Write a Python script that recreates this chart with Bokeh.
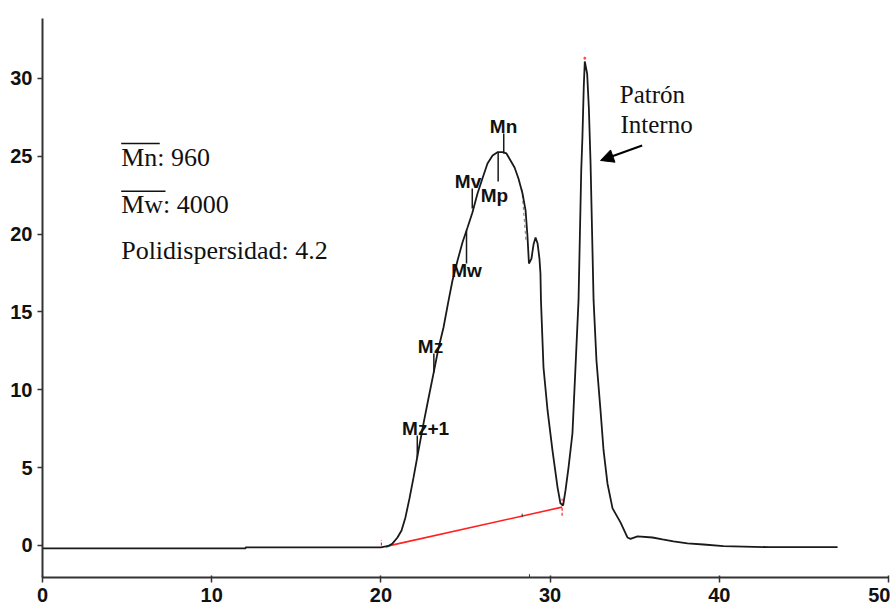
from bokeh.plotting import figure
from bokeh.models import Range1d, Arrow, NormalHead, FixedTicker
from bokeh.embed import file_html
from bokeh.resources import INLINE
from bokeh.core.properties import value

# ---- chromatogram trace (elution time, detector signal) ----
trace_x = [0.0, 12.0, 12.0, 20.0, 20.45, 20.69, 20.98, 21.22, 21.45, 21.69, 21.93,
           22.22, 22.52, 22.81, 23.11, 23.40, 23.70, 24.00, 24.23, 24.53, 24.82,
           25.12, 25.41, 25.71, 26.00, 26.30, 26.60, 26.89, 27.19, 27.42, 27.66,
           27.90, 28.13, 28.37, 28.55, 28.66, 28.75, 28.90, 29.02, 29.14, 29.26,
           29.37, 29.43, 29.46, 29.61, 29.85, 30.14, 30.44, 30.61, 30.77, 30.91,
           31.09, 31.32, 31.50, 31.68, 31.84, 31.91, 31.99, 32.05, 32.19, 32.29,
           32.39, 32.57, 32.74, 32.98, 33.16, 33.39, 33.69, 34.16, 34.57, 34.75,
           35.17, 36.05, 36.64, 37.29, 38.12, 39.07, 40.25, 42.91, 46.99]
trace_y = [-0.19, -0.19, -0.13, -0.13, -0.03, 0.13, 0.51, 0.96, 1.80, 3.02, 4.37,
           6.10, 7.84, 9.44, 11.05, 12.65, 14.00, 15.74, 17.02, 18.30, 19.46,
           20.42, 21.39, 22.61, 23.57, 24.53, 25.05, 25.26, 25.27, 25.18, 24.73,
           24.28, 23.57, 22.61, 21.52, 19.91, 18.11, 18.43, 19.33, 19.78, 19.40,
           18.43, 17.47, 15.74, 11.43, 8.67, 6.10, 3.73, 2.70, 2.57, 3.53,
           5.01, 7.19, 11.43, 15.74, 24.08, 26.20, 29.48, 31.09, 30.31, 28.12,
           24.60, 15.74, 11.88, 8.67, 6.10, 3.98, 2.38, 1.48, 0.51, 0.42,
           0.58, 0.51, 0.39, 0.26, 0.13, 0.06, -0.04, -0.11, -0.11]

# ---- integration baseline ----
baseline_x = [20.45, 30.71]
baseline_y = [-0.03, 2.46]

# ---- molecular-weight average markers ----
marker_names = ["Mn", "Mp", "Mv", "Mw", "Mz", "Mz+1"]
marker_x = [27.26, 26.93, 25.40, 25.06, 23.13, 22.15]
marker_y0 = [26.46, 25.24, 22.93, 20.23, 12.33, 7.06]
marker_y1 = [25.18, 23.38, 21.64, 18.11, 11.11, 5.65]
label_x = [27.25, 26.71, 25.15, 25.06, 22.93, 22.64]
label_y = [26.91, 22.48, 23.35, 17.63, 12.81, 7.51]

# ---- summary text ----
summary_text = ["Mn: 960", "Mw: 4000", "Polidispersidad: 4.2"]
summary_x = [4.65, 4.65, 4.65]
summary_y = [24.92, 21.90, 18.95]
overline_x0 = [4.65, 4.65]
overline_x1 = [6.93, 7.27]
overline_y = [25.82, 22.76]

std_text = ["Patrón", "Interno"]
std_x = [34.12, 34.16]
std_y = [28.97, 27.04]
arrow_start = (35.44, 25.69)
arrow_end = (32.98, 24.73)

x_ticks = [0, 10, 20, 30, 40, 50]
y_ticks = [0, 5, 10, 15, 20, 25, 30]

p = figure(width=890, height=611, output_backend="svg", toolbar_location=None,
           x_range=Range1d(0, 50), y_range=Range1d(-2.06, 33.85),
           min_border_left=42, min_border_right=2, min_border_top=18,
           min_border_bottom=34)
p.outline_line_color = None
p.xgrid.visible = False
p.ygrid.visible = False
p.background_fill_color = "white"
p.border_fill_color = "white"

for ax, ticks in ((p.xaxis, x_ticks), (p.yaxis, y_ticks)):
    ax.ticker = FixedTicker(ticks=ticks)
    ax.minor_tick_line_color = None
    ax.axis_line_color = "#333333"
    ax.axis_line_width = 2
    ax.major_tick_line_color = "#333333"
    ax.major_tick_line_width = 1.5
    ax.major_tick_out = 5
    ax.major_label_text_font = "Liberation Sans"
    ax.major_label_text_font_style = "bold"
    ax.major_label_text_font_size = "20px"
    ax.major_label_text_color = "#111111"
p.xaxis.major_tick_in = 2
p.yaxis.major_tick_in = 0
p.xaxis.major_label_standoff = 5
p.yaxis.major_label_standoff = 5

# baseline
p.line(baseline_x, baseline_y, line_color="#ff2020", line_width=1.6)
p.segment([20.03, 30.71], [0.0, 1.9], [20.03, 30.71], [0.35, 3.0],
          line_color="#ff2020", line_width=1.2, line_dash="3 2")
p.segment([20.3], [-0.12], [20.55], [0.02], line_color="#00dddd", line_width=2)
p.segment([28.35, 28.78], [1.82, -2.06], [28.35, 28.78], [2.04, -1.85],
          line_color="#333333", line_width=1)
p.segment([28.33], [22.9], [28.58], [19.5], line_color="#777777",
          line_width=1, line_dash="3 3")

# trace
p.line(trace_x, trace_y, line_color="#1a1a1a", line_width=1.8)
p.scatter([32.05], [31.3], size=2, color="#ff4040")

# markers
p.segment(marker_x, marker_y0, marker_x, marker_y1, line_color="#1a1a1a",
          line_width=1.5)
p.text(label_x, label_y, text=marker_names, text_font=value("Liberation Sans"),
       text_font_style="bold", text_font_size="19px", text_align="center",
       text_baseline="middle", text_color="#111111")

# summary
p.text(summary_x, summary_y, text=summary_text,
       text_font=value("Liberation Serif"), text_font_size="26px",
       text_align="left", text_baseline="middle", text_color="#111111")
p.segment(overline_x0, overline_y, overline_x1, overline_y,
          line_color="#111111", line_width=1.5)

p.text(std_x, std_y, text=std_text, text_font=value("Liberation Serif"),
       text_font_size="25px", text_align="left", text_baseline="middle",
       text_color="#111111")
p.add_layout(Arrow(end=NormalHead(size=13, fill_color="black", line_color="black"),
                   x_start=arrow_start[0], y_start=arrow_start[1],
                   x_end=arrow_end[0], y_end=arrow_end[1],
                   line_color="black", line_width=2))

open("out.html", "w").write(file_html(p, INLINE))
